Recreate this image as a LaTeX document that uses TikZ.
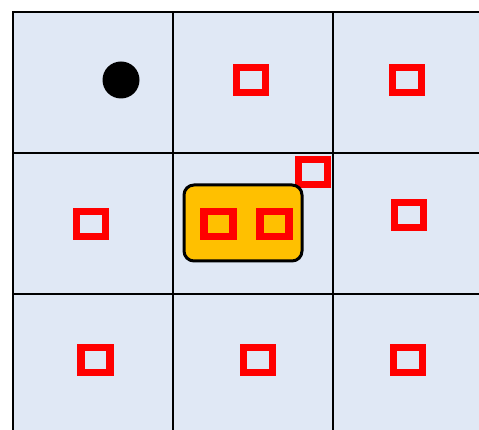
\documentclass[tikz,border=0pt]{standalone}
\usepackage{xcolor}
\usepackage{tikz}
\usetikzlibrary{positioning}

\definecolor{cellblue}{HTML}{E0E8F5}
\definecolor{slotorange}{HTML}{FFC000}

\begin{document}
\begin{tikzpicture}[
  x=1pt,y=-1pt,
  cell/.style={draw=black,line width=1.6pt,fill=cellblue,minimum width=160pt,minimum height=141pt,inner sep=0pt},
  mk/.style={draw=red,line width=7.5pt,minimum width=29pt,minimum height=25pt,inner sep=0pt},
  slot/.style={draw=black,line width=3pt,fill=slotorange,rounded corners=10pt,minimum width=118pt,minimum height=76pt,inner sep=0pt},
  dot/.style={circle,fill=black,minimum size=37pt,inner sep=0pt}]
 \useasboundingbox (0,0) rectangle (479,430);
 \clip (0,0) rectangle (479,430);
 \foreach \r in {0,1,2}
  \foreach \c in {0,1,2}
   \node[cell] (c\r\c) at (93+160*\c,82.5+141*\r) {};
 \node[dot] (ag) at (121,80) {};
 \node[mk] (m01) at (251,80) {};
 \node[mk] (m02) at (407,80) {};
 \node[mk] (m10) at (91,224) {};
 \node[mk] (m12) at (409,215) {};
 \node[mk] (mc) at (313,172) {};
 \node[slot] (box) at (243,223) {};
 \node[mk] (bl) at (218.5,224) {};
 \node[mk] (br) at (274.5,224) {};
 \node[mk] (m20) at (95.5,360) {};
 \node[mk] (m21) at (258,360) {};
 \node[mk] (m22) at (408,360) {};
\end{tikzpicture}
\end{document}
